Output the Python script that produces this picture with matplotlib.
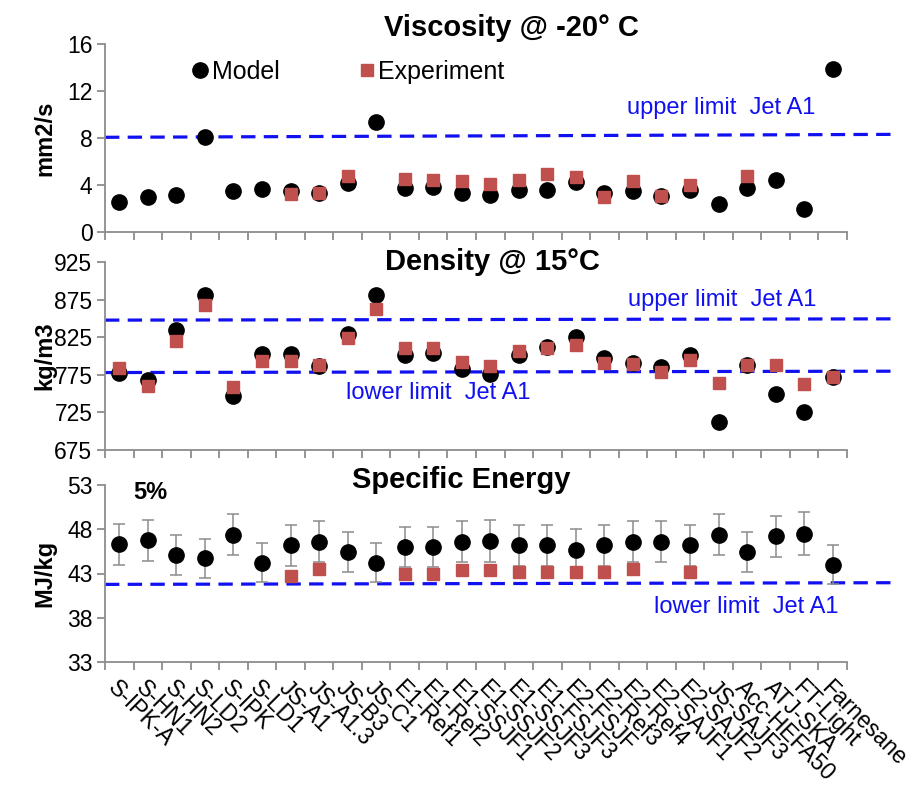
import numpy as np
import matplotlib.pyplot as plt

plt.rcParams['font.family'] = ['Liberation Sans', 'DejaVu Sans']

# sample names
fuels = ['S-IPK-A', 'S-HN1', 'S-HN2', 'S-LD2', 'S-IPK', 'S-LD1', 'JS-A1', 'JS-A1.3',
         'JS-B3', 'JS-C1', 'E1-Ref1', 'E1-Ref2', 'E1-SSJF1', 'E1-SSJF2', 'E1-SSJF3',
         'E1-FSJF3', 'E2-FSJF', 'E2-Ref3', 'E2-Ref4', 'E2-SAJF1', 'E2-SAJF2',
         'JS-SAJF3', 'Acc-HEFA50', 'ATJ-SKA', 'FT-Light', 'Farnesane']

nan = np.nan
# viscosity @ -20 C, mm2/s
visc_model = [2.55, 2.95, 3.12, 8.06, 3.52, 3.66, 3.46, 3.3, 4.2, 9.33, 3.74, 3.8, 3.3,
              3.18, 3.6, 3.6, 4.25, 3.3, 3.5, 3.1, 3.55, 2.38, 3.75, 4.4, 1.99, 13.9]
visc_exp = [nan, nan, nan, nan, nan, nan, 3.23, 3.3, 4.74, nan, 4.54, 4.4, 4.37,
            4.08, 4.45, 4.94, 4.68, 2.95, 4.31, 3.04, 3.97, nan, 4.74, nan, nan, nan]
visc_upper = [8.06, 8.31]

# density @ 15 C, kg/m3
dens_model = [777.2, 768.4, 834, 880.7, 747.2, 802.3, 802.3, 786.9, 829.6, 880.7, 801.4,
              804.5, 782.5, 775.9, 801.4, 812.4, 825.7, 798, 791.3, 785.1, 801, 712,
              787.8, 749.4, 726.1, 772.4]
dens_exp = [783.4, 760.5, 820, 868.4, 758.3, 793.5, 793.5, 787.8, 824.3, 863.1, 811.1,
            811.1, 792.2, 786.9, 806.7, 811.1, 814.2, 791.3, 789.1, 778.1, 794.8, 764,
            787.8, 787.8, 762.7, 772.4]
dens_upper = [847.7, 849.4]
dens_lower = [778.0, 779.8]

# specific energy, MJ/kg
ener_model = [46.3, 46.75, 45.1, 44.7, 47.4, 44.2, 46.2, 46.6, 45.4, 44.2, 46.0, 46.0,
              46.6, 46.7, 46.2, 46.2, 45.7, 46.2, 46.6, 46.6, 46.2, 47.4, 45.4, 47.2,
              47.5, 44.0]
ener_err = [2.3, 2.35, 2.25, 2.25, 2.35, 2.2, 2.3, 2.35, 2.25, 2.2, 2.3, 2.3, 2.35,
            2.35, 2.3, 2.3, 2.3, 2.3, 2.35, 2.35, 2.3, 2.35, 2.25, 2.35, 2.4, 2.2]
ener_exp = [nan, nan, nan, nan, nan, nan, 42.7, 43.5, nan, nan, 43.0, 43.0, 43.4, 43.4,
            43.2, 43.2, 43.2, 43.2, 43.5, nan, 43.2, nan, nan, nan, nan, nan]
ener_lower = [41.77, 41.96]

x = np.arange(len(fuels))
line_x = [-0.5, 27.2]

red = '#C0504D'
blue = '#1010F0'
gray = '#8C8C8C'

fig = plt.figure(figsize=(9.12, 7.87), dpi=100)
L, W = 105 / 912, 742 / 912
ax1 = fig.add_axes([L, 1 - 232 / 787, W, 188 / 787])
ax2 = fig.add_axes([L, 1 - 450 / 787, W, 188 / 787])
ax3 = fig.add_axes([L, 1 - 662 / 787, W, 177 / 787])


def style(ax, ylim, yticks, ylabel):
    ax.set_xlim(-0.5, len(fuels) - 0.5)
    ax.set_ylim(*ylim)
    ax.set_yticks(yticks)
    for s in ['top', 'right']:
        ax.spines[s].set_visible(False)
    for s in ['left', 'bottom']:
        ax.spines[s].set_color(gray)
        ax.spines[s].set_linewidth(1.3)
    ax.set_xticks(np.arange(-0.5, len(fuels), 1), minor=True)
    ax.set_xticks(x)
    ax.set_xticklabels([])
    ax.tick_params(axis='x', which='major', length=0)
    ax.tick_params(axis='x', which='minor', length=6, color=gray, width=1.3)
    ax.tick_params(axis='y', length=6, color=gray, width=1.3, labelsize=16.5, pad=3)
    ax.set_ylabel(ylabel, fontsize=17, fontweight='bold')
    ax.yaxis.set_label_coords(-0.066, 0.5)
    ax.patch.set_alpha(0)


style(ax1, (0, 16), [0, 4, 8, 12, 16], 'mm2/s')
style(ax2, (675, 925), [675, 725, 775, 825, 875, 925], 'kg/m3')
style(ax3, (33, 53), [33, 38, 43, 48, 53], 'MJ/kg')

dash = dict(color=blue, lw=2.3, ls=(0, (4.5, 2.6)), clip_on=False, zorder=1)

# viscosity
ax1.plot(line_x, visc_upper, **dash)
ax1.plot(x, visc_model, 'o', color='black', ms=11, label='Model', zorder=3)
ax1.plot(x, visc_exp, 's', color=red, ms=8.5, label='Experiment', zorder=4)
ax1.legend(loc='upper left', bbox_to_anchor=(0.095, 1.01), ncol=2, frameon=False,
           fontsize=18, handlelength=0.6, handletextpad=0.15, columnspacing=3.2,
           borderaxespad=0.3)

# density
ax2.plot(line_x, dens_upper, **dash)
ax2.plot(line_x, dens_lower, **dash)
ax2.plot(x, dens_model, 'o', color='black', ms=11, zorder=3)
ax2.plot(x, dens_exp, 's', color=red, ms=8.5, zorder=4)

# specific energy
ax3.plot(line_x, ener_lower, **dash)
ax3.errorbar(x, ener_model, yerr=ener_err, fmt='o', color='black', ms=11,
             ecolor=gray, elinewidth=1.1, capsize=4, capthick=1.1, zorder=3)
ax3.plot(x, ener_exp, 's', color=red, ms=8.5, zorder=4)

ax3.set_xticklabels(fuels, rotation=-45, ha='left', va='top',
                    rotation_mode='anchor', fontsize=16.5)
ax3.tick_params(axis='x', which='major', pad=10)

# titles and notes
fig.text(511 / 912, 1 - 28 / 787, 'Viscosity @ -20° C', ha='center', va='center',
         fontsize=21, fontweight='bold')
fig.text(492 / 912, 1 - 262 / 787, 'Density @ 15°C', ha='center', va='center',
         fontsize=21, fontweight='bold')
fig.text(461 / 912, 1 - 480 / 787, 'Specific Energy', ha='center', va='center',
         fontsize=21, fontweight='bold')
fig.text(150 / 912, 1 - 493 / 787, '5%', ha='center', va='center',
         fontsize=17, fontweight='bold')

fig.text(721 / 912, 1 - 108 / 787, 'upper limit  Jet A1', ha='center', va='center',
         fontsize=17, color=blue)
fig.text(722 / 912, 1 - 300 / 787, 'upper limit  Jet A1', ha='center', va='center',
         fontsize=17, color=blue)
fig.text(438 / 912, 1 - 393 / 787, 'lower limit  Jet A1', ha='center', va='center',
         fontsize=17, color=blue)
fig.text(746 / 912, 1 - 607 / 787, 'lower limit  Jet A1', ha='center', va='center',
         fontsize=17, color=blue)

fig.savefig('out.png', dpi=100)
